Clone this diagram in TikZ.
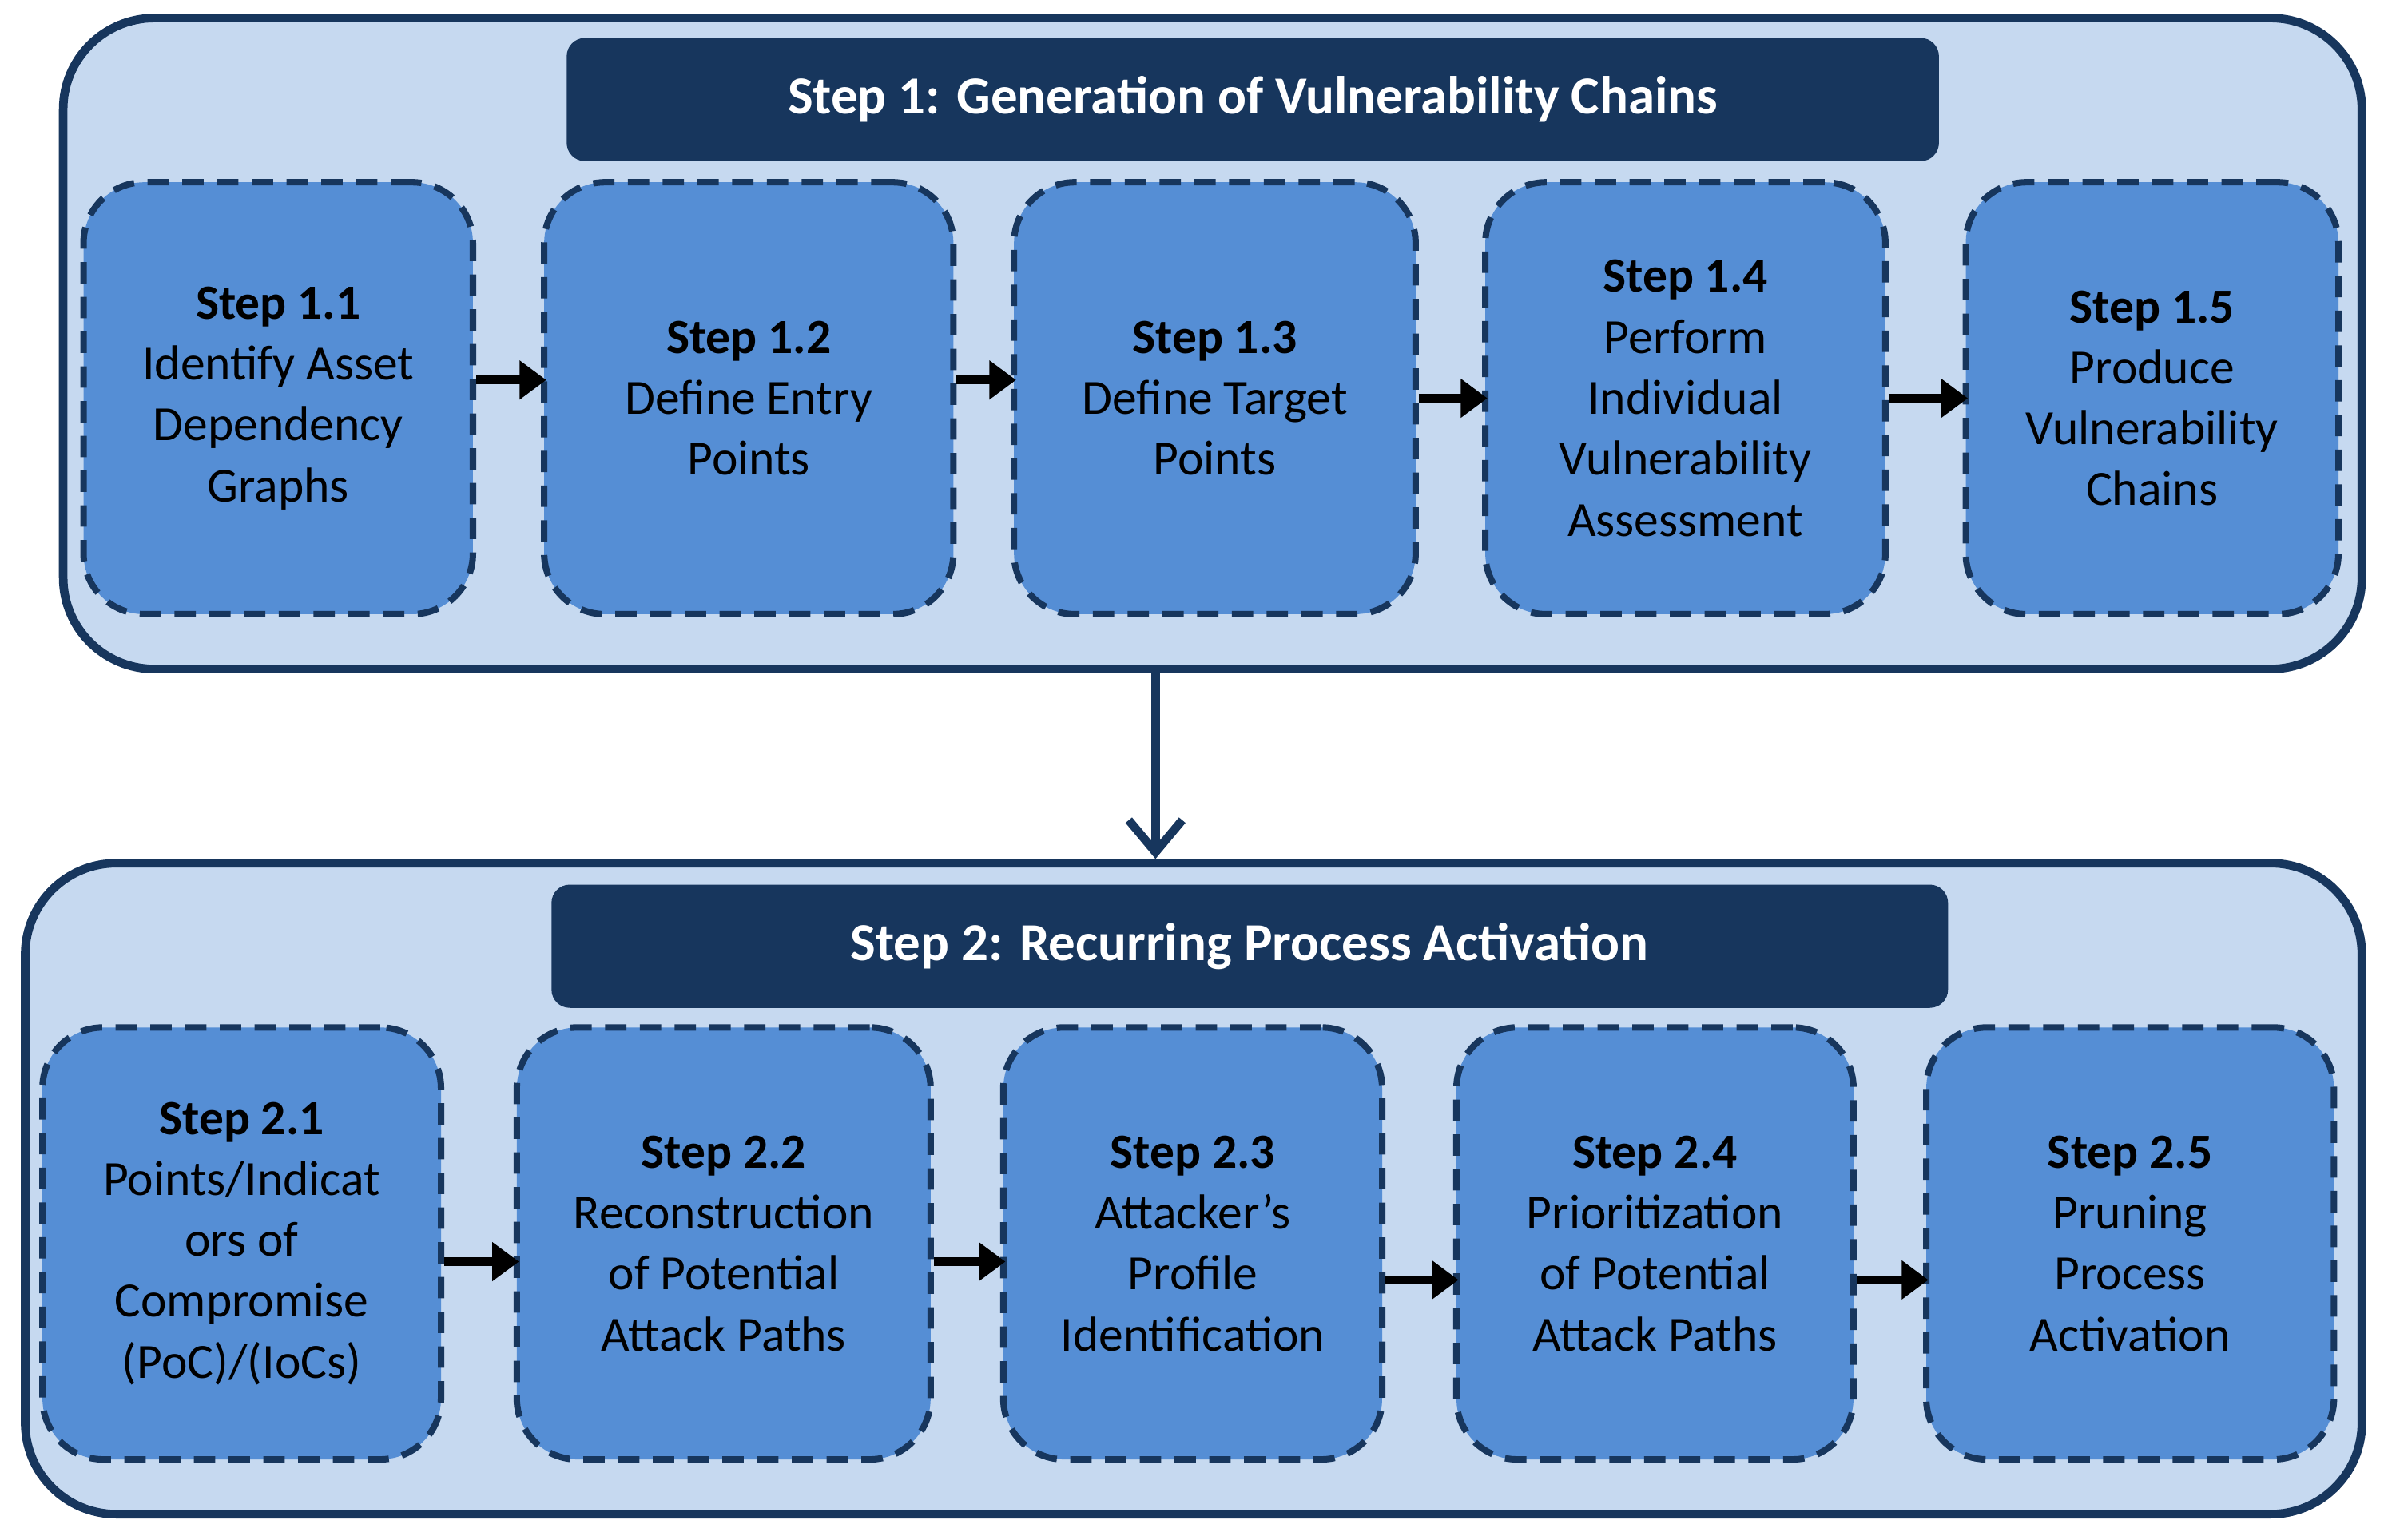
\documentclass[tikz,border=0pt]{standalone}
\usepackage{fontspec}
\setmainfont{Carlito}
\usetikzlibrary{arrows.meta}
\definecolor{navy}{RGB}{23,54,93}
\definecolor{pale}{RGB}{198,217,240}
\definecolor{mid}{RGB}{85,142,213}
\begin{document}
\begin{tikzpicture}[x=0.01cm,y=-0.01cm,
  outer/.style={draw=navy, line width=1.6pt, fill=pale, rounded corners=0.6cm},
  title/.style={fill=navy, rounded corners=0.12cm, text=white, font=\fontsize{10}{12}\selectfont\bfseries},
  stage/.style={draw=navy, line width=1.2pt, dash pattern=on 4pt off 2.5pt, fill=mid, rounded corners=0.4cm, align=center, font=\fontsize{9.2}{11.4}\selectfont, inner sep=0pt},
  flow/.style={draw=black, line width=1.7pt, -{Triangle[length=5pt,width=7pt]}, shorten >=-1pt}]
\useasboundingbox (0,0) rectangle (1568,1013);
% step 1
\node[outer, minimum width=15.11cm, minimum height=4.28cm] (s1) at (797.5,226) {};
\node[title, minimum width=9.02cm, minimum height=0.81cm] (t1) at (824,65.5) {Step 1: Generation of Vulnerability Chains};
\node[stage, minimum width=2.56cm, minimum height=2.84cm] (b11) at (183,262) {\textbf{Step 1.1}\\Identify Asset\\Dependency\\Graphs};
\node[stage, minimum width=2.69cm, minimum height=2.84cm] (b12) at (492.5,262) {\textbf{Step 1.2}\\Define Entry\\Points};
\node[stage, minimum width=2.64cm, minimum height=2.84cm] (b13) at (799,262) {\textbf{Step 1.3}\\Define Target\\Points};
\node[stage, minimum width=2.63cm, minimum height=2.84cm] (b14) at (1108.5,262) {\textbf{Step 1.4}\\Perform\\Individual\\Vulnerability\\Assessment};
\node[stage, minimum width=2.45cm, minimum height=2.84cm] (b15) at (1415.5,262) {\textbf{Step 1.5}\\Produce\\Vulnerability\\Chains};
\draw[flow] ([yshift=0.12cm]b11.east) -- ([yshift=0.12cm]b12.west);
\draw[flow] ([yshift=0.12cm]b12.east) -- ([yshift=0.12cm]b13.west);
\draw[flow] (b13.east) -- (b14.west);
\draw[flow] (b14.east) -- (b15.west);
% step 2
\node[outer, minimum width=15.36cm, minimum height=4.28cm] (s2) at (785,782) {};
\node[title, minimum width=9.18cm, minimum height=0.81cm] (t2) at (822,622.5) {Step 2: Recurring Process Activation};
\node[stage, minimum width=2.62cm, minimum height=2.84cm] (b21) at (159,818) {\textbf{Step 2.1}\\Points/Indicat\\ors of\\Compromise\\(PoC)/(IoCs)};
\node[stage, minimum width=2.72cm, minimum height=2.84cm] (b22) at (476,818) {\textbf{Step 2.2}\\Reconstruction\\of Potential\\Attack Paths};
\node[stage, minimum width=2.49cm, minimum height=2.84cm] (b23) at (784.5,818) {\textbf{Step 2.3}\\Attacker’s\\Profile\\Identification};
\node[stage, minimum width=2.61cm, minimum height=2.84cm] (b24) at (1088.5,818) {\textbf{Step 2.4}\\Prioritization\\of Potential\\Attack Paths};
\node[stage, minimum width=2.68cm, minimum height=2.84cm] (b25) at (1401,818) {\textbf{Step 2.5}\\Pruning\\Process\\Activation};
\draw[flow] ([yshift=-0.12cm]b21.east) -- ([yshift=-0.12cm]b22.west);
\draw[flow] ([yshift=-0.12cm]b22.east) -- ([yshift=-0.12cm]b23.west);
\draw[flow] ([yshift=-0.24cm]b23.east) -- ([yshift=-0.24cm]b24.west);
\draw[flow] ([yshift=-0.24cm]b24.east) -- ([yshift=-0.24cm]b25.west);
% between
\draw[navy, line width=1.6pt, -{Straight Barb[length=6pt,width=10pt]}] (s1.south -| 760,0) -- (s2.north -| 760,0);
\end{tikzpicture}
\end{document}
